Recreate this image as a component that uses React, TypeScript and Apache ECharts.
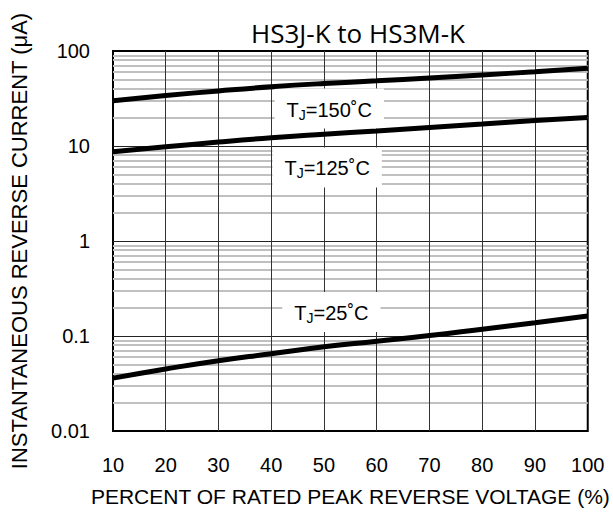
import React, { useEffect, useRef } from "react";
import * as echarts from "echarts";

const xValues = [10, 20, 30, 40, 50, 60, 70, 80, 90, 100];
const tj150 = [30, 34, 38, 42, 45.5, 48.5, 52, 56, 60.5, 66];
const tj125 = [8.7, 9.8, 11, 12.2, 13.3, 14.4, 15.7, 17, 18.5, 20];
const tj25 = [0.036, 0.045, 0.055, 0.065, 0.077, 0.088, 0.101, 0.118, 0.138, 0.162];

const decadeTicks = [0.1, 1, 10];
const minorTicks = [
  0.02, 0.03, 0.04, 0.05, 0.06, 0.07, 0.08, 0.09,
  0.2, 0.3, 0.4, 0.5, 0.6, 0.7, 0.8, 0.9,
  2, 3, 4, 5, 6, 7, 8, 9,
  20, 30, 40, 50, 60, 70, 80, 90,
];
const verticalTicks = [20, 30, 40, 50, 60, 70, 80, 90];

const labels = [
  { temp: "150", x: 51, y: 24.8 },
  { temp: "125", x: 50.6, y: 5.94 },
  { temp: "25", x: 51.4, y: 0.179 },
];

const FONT = "Liberation Sans, Arial, sans-serif";

export default function App() {
  const ref = useRef<HTMLDivElement>(null);
  useEffect(() => {
    document.body.style.margin = "0";
    if (!ref.current) return;
    const chart = echarts.init(ref.current, null, { renderer: "svg" });
    const curve = (vals: number[], name: string, lbl: { temp: string; x: number; y: number }) => ({
      type: "line",
      name,
      z: 5,
      smooth: true,
      symbol: "none",
      data: xValues.map((x, i) => [x, vals[i]]),
      lineStyle: { color: "#000", width: 5 },
      markPoint: {
        silent: true,
        symbol: "circle",
        symbolSize: 1,
        itemStyle: { color: "transparent" },
        label: {
          show: true,
          position: "inside",
          backgroundColor: "#fff",
          padding: [9, 12, 7, 12],
          formatter: "{t|T}{s|J}{t|=" + lbl.temp + "˚C}",
          rich: {
            t: { fontFamily: FONT, fontSize: 20, color: "#000" },
            s: { fontFamily: FONT, fontSize: 14, color: "#000", verticalAlign: "bottom", padding: [10, 0, 0, 0] },
          },
        },
        data: [{ coord: [lbl.x, lbl.y] }],
      },
    });
    chart.setOption({
      animation: false,
      grid: {
        left: 113,
        right: 23,
        top: 51,
        bottom: 81,
        show: true,
        borderColor: "#000",
        borderWidth: 2,
        backgroundColor: "transparent",
      },
      graphic: [
        {
          type: "text",
          x: 358,
          y: 20,
          style: {
            text: "HS3J-K to HS3M-K",
            fontFamily: "Open Sans, sans-serif",
            fontSize: 26,
            fill: "#000",
            textAlign: "center",
          },
        },
      ],
      xAxis: {
        type: "value",
        min: 10,
        max: 100,
        interval: 10,
        name: "PERCENT OF RATED PEAK REVERSE VOLTAGE (%)",
        nameLocation: "middle",
        nameGap: 55,
        nameTextStyle: { fontFamily: FONT, fontSize: 21, color: "#000" },
        axisLine: { show: false },
        axisTick: { show: false },
        splitLine: { show: false },
        axisLabel: { fontFamily: FONT, fontSize: 20, color: "#000", margin: 24 },
      },
      yAxis: {
        type: "log",
        logBase: 10,
        min: 0.01,
        max: 100,
        name: "INSTANTANEOUS REVERSE CURRENT (μA)",
        nameLocation: "middle",
        nameGap: 83,
        nameTextStyle: { fontFamily: FONT, fontSize: 22, color: "#000" },
        axisLine: { show: false },
        axisTick: { show: false },
        splitLine: { show: false },
        axisLabel: {
          fontFamily: FONT,
          fontSize: 20,
          color: "#000",
          margin: 23,
          formatter: (v: number) => String(v),
        },
      },
      series: [
        {
          type: "line",
          name: "grid",
          z: 1,
          data: [],
          markLine: {
            silent: true,
            symbol: "none",
            label: { show: false },
            data: [
              ...minorTicks.map((v) => ({ yAxis: v, lineStyle: { color: "#c0c0c0", width: 2, type: "solid" } })),
              ...decadeTicks.map((v) => ({ yAxis: v, lineStyle: { color: "#222", width: 1, type: "solid" } })),
              ...verticalTicks.map((v) => ({ xAxis: v, lineStyle: { color: "#333", width: 1, type: "solid" } })),
            ],
          },
        },
        curve(tj150, "TJ=150°C", labels[0]),
        curve(tj125, "TJ=125°C", labels[1]),
        curve(tj25, "TJ=25°C", labels[2]),
      ],
    });
    return () => chart.dispose();
  }, []);
  return <div ref={ref} style={{ width: 613, height: 512 }} />;
}
